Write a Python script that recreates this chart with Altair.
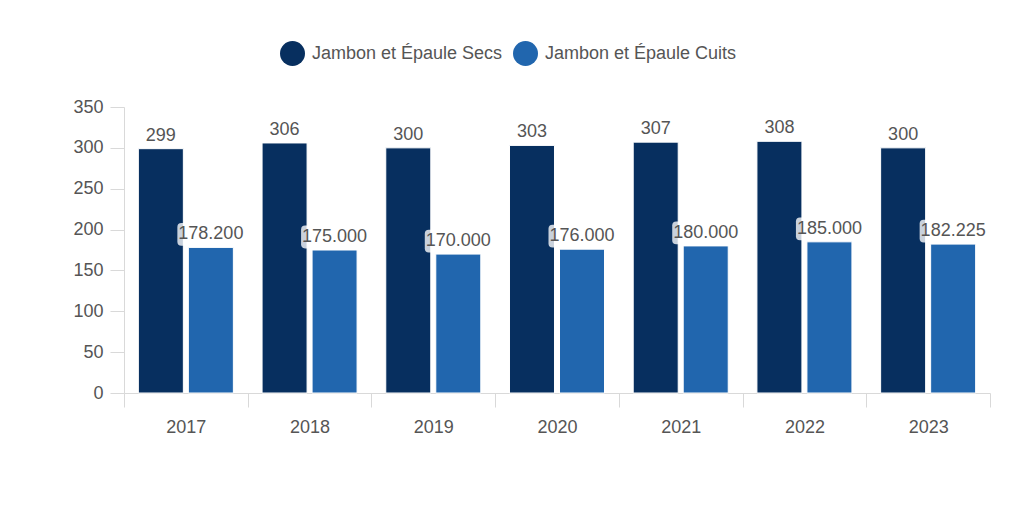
import altair as alt
import pandas as pd

years = ["2017", "2018", "2019", "2020", "2021", "2022", "2023"]
series_names = ["Jambon et Épaule Secs", "Jambon et Épaule Cuits"]
secs = [299, 306, 300, 303, 307, 308, 300]
cuits = [178.2, 175.0, 170.0, 176.0, 180.0, 185.0, 182.225]
colors = ["#072F5F", "#2166AE"]

rows = []
for y, v in zip(years, secs):
    rows.append({"year": y, "series": series_names[0], "value": v, "label": f"{v:d}"})
for y, v in zip(years, cuits):
    rows.append({"year": y, "series": series_names[1], "value": v, "label": f"{v:.3f}"})
df = pd.DataFrame(rows)

FONT = "Liberation Sans"

x = alt.X("year:N", sort=years, title=None,
          scale=alt.Scale(paddingInner=0, paddingOuter=0),
          axis=alt.Axis(labelAngle=0, tickBand="extent", tickSize=14,
                        tickColor="#d9d9d9", domainColor="#d9d9d9",
                        labelFontSize=18, labelColor="#555555", labelFont=FONT,
                        labelPadding=11))
xo = alt.XOffset("series:N", sort=series_names,
                 scale=alt.Scale(paddingInner=0.1, paddingOuter=0.287))
y = alt.Y("value:Q", title=None,
          scale=alt.Scale(domain=[0, 350], nice=False),
          axis=alt.Axis(values=[0, 50, 100, 150, 200, 250, 300, 350], grid=False,
                        tickSize=14, tickColor="#d9d9d9", domainColor="#d9d9d9",
                        labelFontSize=18, labelColor="#555555", labelFont=FONT,
                        labelPadding=7))
color = alt.Color("series:N", sort=series_names,
                  scale=alt.Scale(domain=series_names, range=colors),
                  legend=alt.Legend(title=None, orient="none", direction="horizontal",
                                    legendX=156, legendY=-66,
                                    symbolType="circle", symbolSize=625,
                                    symbolStrokeWidth=0, symbolOpacity=1,
                                    labelFontSize=18, labelColor="#555555",
                                    labelFont=FONT, labelOffset=7, labelLimit=400,
                                    columnPadding=10, padding=0))

base = alt.Chart(df)

bars = base.mark_bar(stroke="white", strokeWidth=1).encode(x=x, xOffset=xo, y=y, color=color)

bg_shape = ("M-0.88,-0.34 L0.88,-0.34 Q1,-0.34 1,-0.22 L1,0.22 Q1,0.34 0.88,0.34 "
            "L-0.88,0.34 Q-1,0.34 -1,0.22 L-1,-0.22 Q-1,-0.34 -0.88,-0.34 Z")
bgs = base.transform_filter(alt.datum.series == series_names[1]).mark_point(
    shape=bg_shape, filled=True, fill="white", fillOpacity=0.78, strokeWidth=0,
    size=4489, yOffset=-13
).encode(x=x, xOffset=xo, y=y)

texts = base.mark_text(baseline="middle", align="center", dy=-13, fontSize=18,
                       font=FONT, color="#555555").encode(
    x=x, xOffset=xo, y=y, text="label:N")

chart = alt.layer(bars, bgs, texts).properties(
    width=866, height=286,
    padding={"left": 116, "top": 99, "right": 22, "bottom": 109},
    autosize="none",
).configure(font=FONT).configure_view(strokeWidth=0)

chart.save("out.html", embed_options={"renderer": "svg", "actions": False})
